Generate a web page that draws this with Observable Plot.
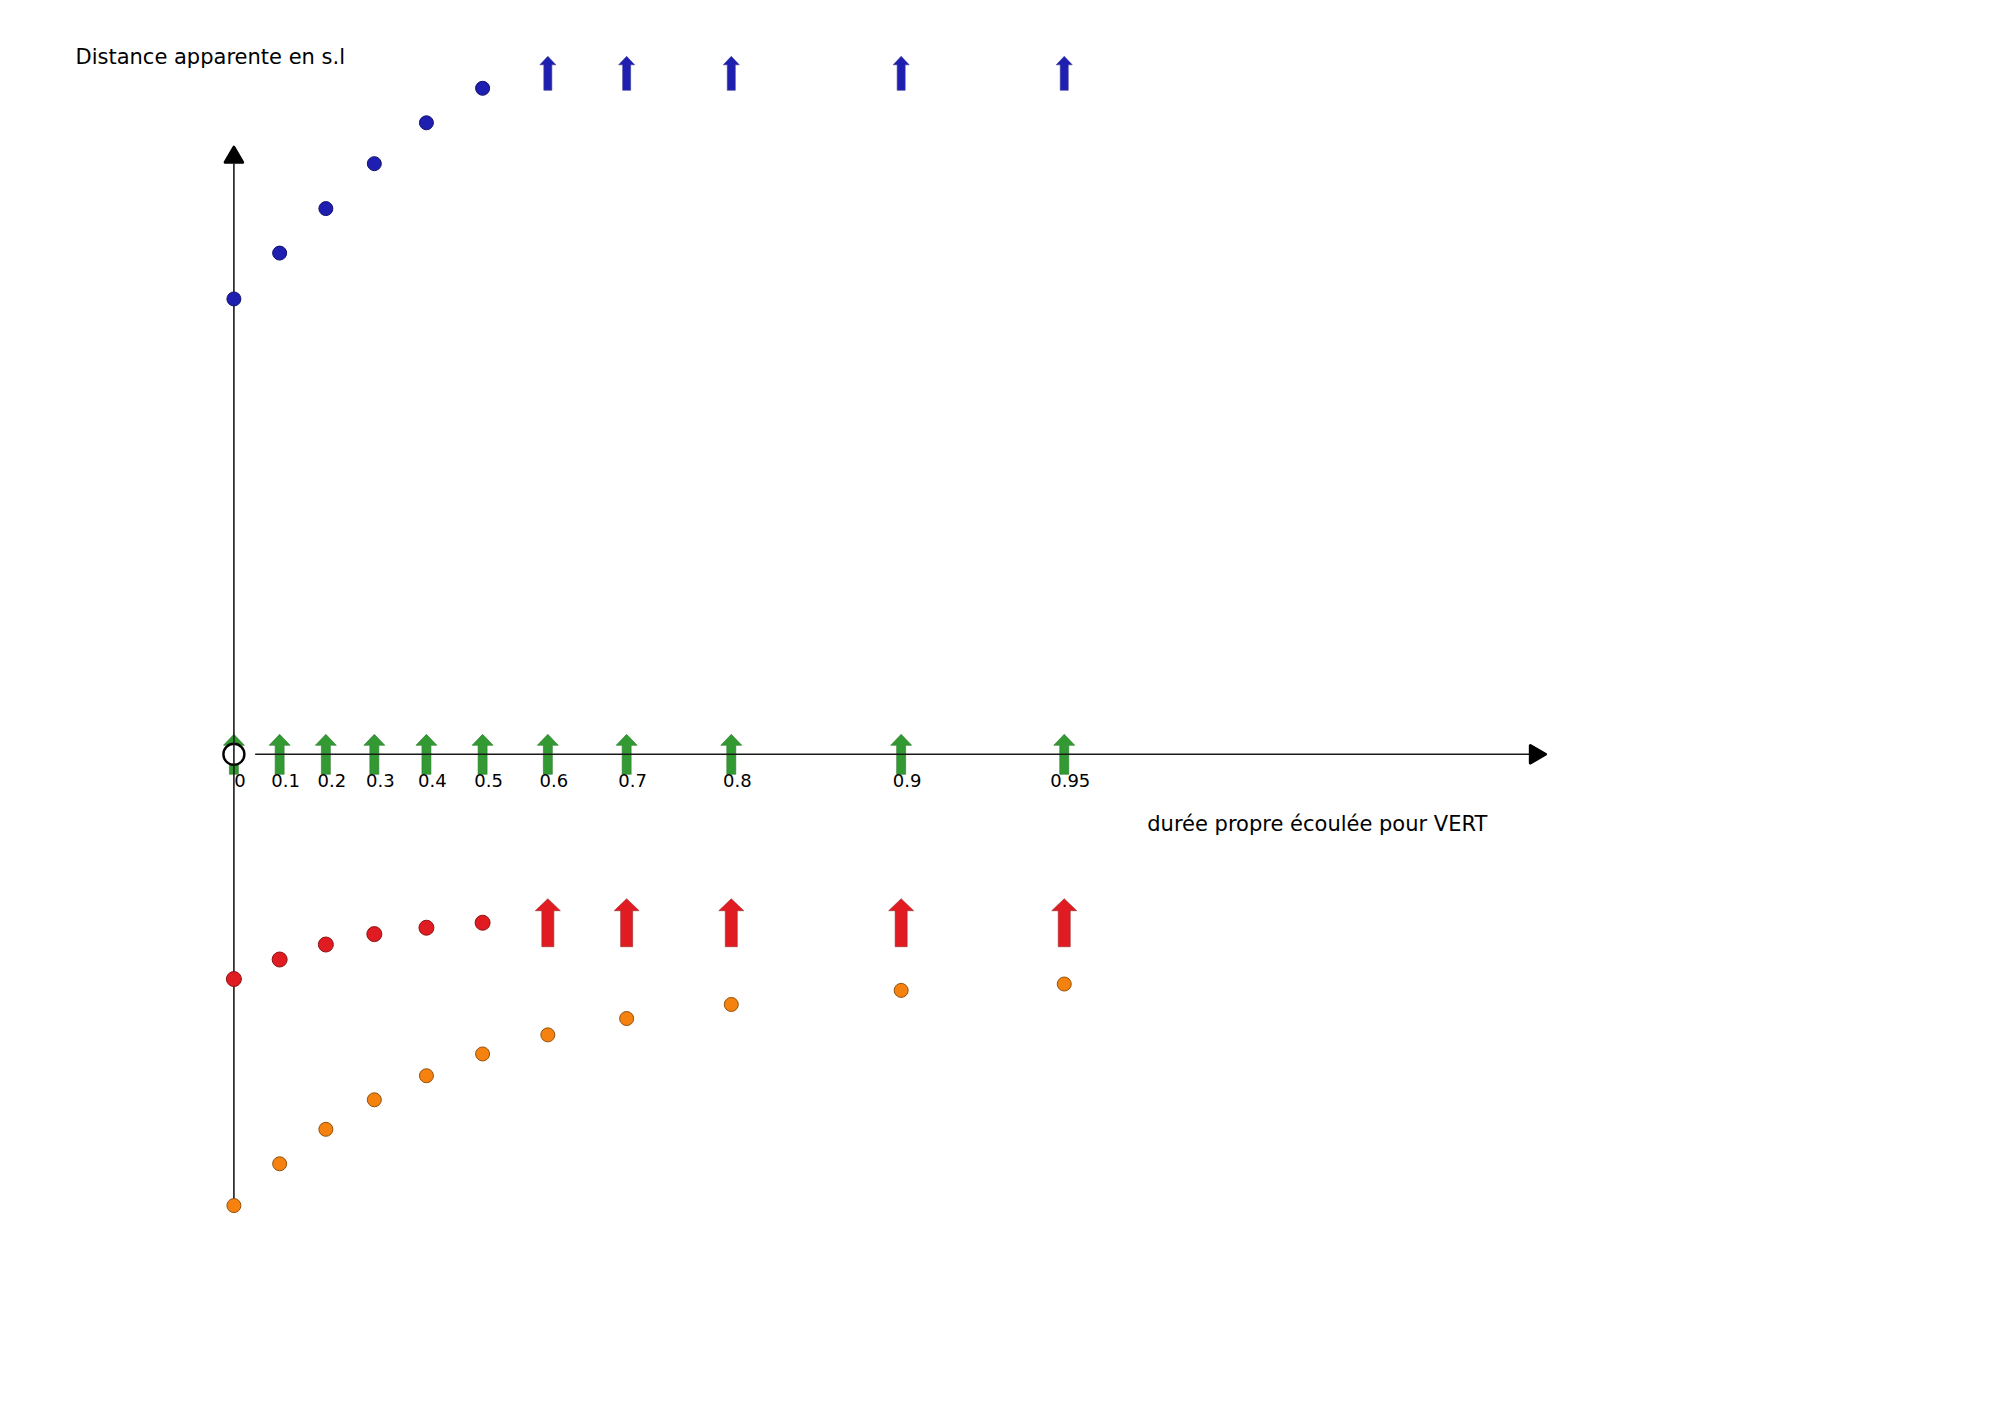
<!DOCTYPE html>
<html>
<head>
<meta charset="utf-8">
<script src="https://cdn.jsdelivr.net/npm/d3@7"></script>
<script src="https://cdn.jsdelivr.net/npm/@observablehq/plot@0.6"></script>
<style>
  html, body { margin: 0; padding: 0; background: #ffffff; }
  #chart svg { display: block; }
</style>
</head>
<body>
<div id="chart"></div>
<script>
// ---- Data ----
const tickLabels = ["0", "0.1", "0.2", "0.3", "0.4", "0.5", "0.6", "0.7", "0.8", "0.9", "0.95"];
// proper time elapsed for VERT (horizontal positions of the ticks)
const properTime = [0, 0.101, 0.203, 0.310, 0.425, 0.549, 0.693, 0.867, 1.098, 1.473, 1.833];
// apparent distance (s.l) — blue series, dots then off-chart arrows
const blueDist   = [1.003, 1.104, 1.202, 1.301, 1.391, 1.467, null, null, null, null, null];
const blueArrow  = [null, null, null, null, null, null, 1.50, 1.50, 1.50, 1.50, 1.50];
// red series
const redDist    = [-0.495, -0.452, -0.419, -0.396, -0.382, -0.371, null, null, null, null, null];
const redArrow   = [null, null, null, null, null, null, -0.371, -0.371, -0.371, -0.371, -0.371];
// orange series
const orangeDist = [-0.994, -0.902, -0.826, -0.761, -0.708, -0.660, -0.618, -0.582, -0.551, -0.520, -0.506];
// green markers on the time axis
const greenArrow = [0, 0, 0, 0, 0, 0, 0, 0, 0, 0, 0];

const yTitle = "Distance apparente en s.l";
const xTitle = "durée propre écoulée pour VERT";

// axis extents (data units)
const xAxisLine = {y: 0, x1: 0.048, x2: 2.86};
const xAxisHead = {x: 2.873, y: 0};
const yAxisLine = {x: 0, y1: -0.994, y2: 1.30};
const yAxisHead = {x: 0, y: 1.315};

// ---- Build rows ----
const rows = properTime.map((t, i) => ({
  t, label: tickLabels[i],
  blue: blueDist[i], blueA: blueArrow[i],
  red: redDist[i], redA: redArrow[i],
  orange: orangeDist[i], green: greenArrow[i]
}));

// block-arrow symbol (pointing up), centred on its mid-height
function blockArrow(shaftW, headW, headH, totalH) {
  return {
    draw(ctx) {
      const top = -totalH / 2, bot = totalH / 2, hb = top + headH;
      ctx.moveTo(0, top);
      ctx.lineTo(headW / 2, hb);
      ctx.lineTo(shaftW / 2, hb);
      ctx.lineTo(shaftW / 2, bot);
      ctx.lineTo(-shaftW / 2, bot);
      ctx.lineTo(-shaftW / 2, hb);
      ctx.lineTo(-headW / 2, hb);
      ctx.closePath();
    }
  };
}
const greenSym = blockArrow(9, 21, 11, 40);
const redSym   = blockArrow(12, 25, 12, 48);
const blueSym  = blockArrow(8, 16, 8.5, 34);

const FONT = "DejaVu Sans, sans-serif";

const chart = Plot.plot({
  width: 2000,
  height: 1414,
  margin: 0,
  style: {background: "#ffffff", fontFamily: FONT},
  x: {type: "linear", domain: [0, 3], range: [233.4, 233.4 + 3 * 453], axis: null},
  y: {type: "linear", domain: [-1.5, 1.5], range: [753.8 + 1.5 * 454, 753.8 - 1.5 * 454], axis: null},
  marks: [
    // green arrows on the time axis
    Plot.dot(rows, {x: "t", y: "green", symbol: greenSym, r: 5, fill: "#339a33", stroke: "#2a7a2a", strokeWidth: 0.6}),
    // origin circle
    Plot.dot([{x: 0, y: 0}], {x: "x", y: "y", r: 10.5, fill: "#ffffff", stroke: "#000000", strokeWidth: 2.4}),
    // axes
    Plot.ruleY([xAxisLine], {y: "y", x1: "x1", x2: "x2", stroke: "#1a1a1a", strokeWidth: 1.6}),
    Plot.ruleX([yAxisLine], {x: "x", y1: "y1", y2: "y2", stroke: "#1a1a1a", strokeWidth: 1.6}),
    Plot.dot([xAxisHead], {x: "x", y: "y", symbol: "triangle", r: 6.5, rotate: 90, fill: "#000000", stroke: "#000000", strokeWidth: 3, strokeLinejoin: "round"}),
    Plot.dot([yAxisHead], {x: "x", y: "y", symbol: "triangle", r: 6.5, fill: "#000000", stroke: "#000000", strokeWidth: 3, strokeLinejoin: "round"}),
    // series dots
    Plot.dot(rows, {x: "t", y: "blue", r: 7, fill: "#1e1eb0", stroke: "#12126e", strokeWidth: 1}),
    Plot.dot(rows, {x: "t", y: "red", r: 7.5, fill: "#e01b22", stroke: "#8c1414", strokeWidth: 1}),
    Plot.dot(rows, {x: "t", y: "orange", r: 7, fill: "#f5820f", stroke: "#94500a", strokeWidth: 1}),
    // off-chart arrows
    Plot.dot(rows, {x: "t", y: "blueA", symbol: blueSym, r: 5, fill: "#1e1eb0", stroke: "#3a3a9a", strokeWidth: 0.6}),
    Plot.dot(rows, {x: "t", y: "redA", symbol: redSym, r: 5, fill: "#e01b22", stroke: "#9a2a2a", strokeWidth: 0.6}),
    // tick labels
    Plot.text(rows, {x: "t", y: 0, text: "label", dx: 6, dy: 27, fontSize: 18, fill: "#000000", fontFamily: FONT, lineAnchor: "middle"}),
    // axis titles
    Plot.text([xTitle], {x: xAxisHead.x, y: 0, text: d => d, textAnchor: "end", dx: -48, dy: 70, fontSize: 21, fill: "#000000", fontFamily: FONT, lineAnchor: "middle"}),
    Plot.text([yTitle], {frameAnchor: "top-left", text: d => d, textAnchor: "start", dx: 75, dy: 57, fontSize: 21, fill: "#000000", fontFamily: FONT, lineAnchor: "middle"})
  ]
});
document.getElementById("chart").appendChild(chart);
</script>
</body>
</html>
